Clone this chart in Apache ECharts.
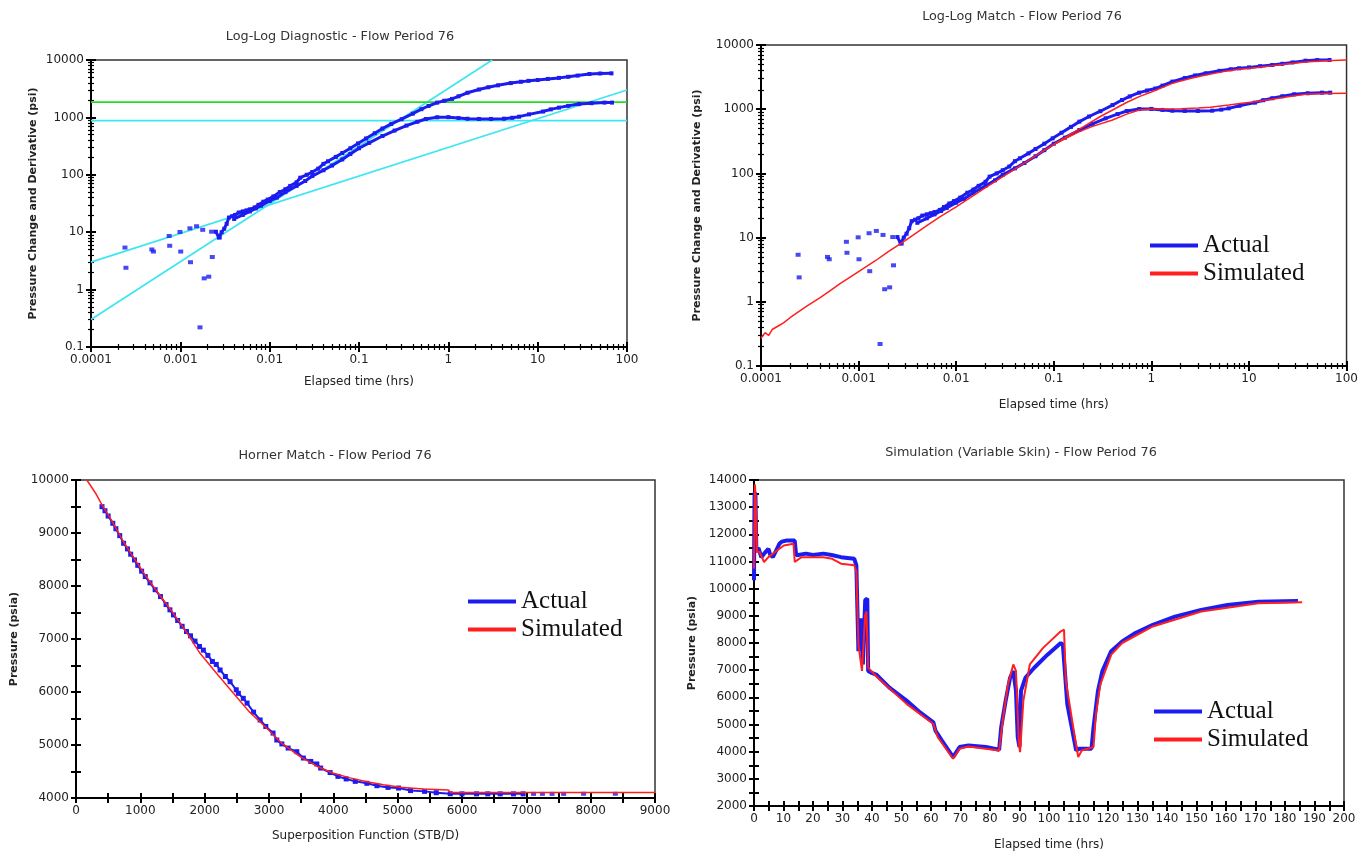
<!DOCTYPE html>
<html><head><meta charset="utf-8">
<script src="https://cdn.jsdelivr.net/npm/echarts@6/dist/echarts.min.js"></script>
<style>html,body{margin:0;padding:0;background:#fff}#c{width:1361px;height:853px}</style>
</head><body><div id="c"></div>
<script>
// ---------- DATA ----------
// Log-log: actual pressure change [hrs, psi]
const deltaPActual = [[0.0025,10.2],[0.0027,8.1],[0.0029,10],[0.0031,11.5],[0.0033,14],[0.0035,18],[0.0038,19],[0.0041,20],[0.0045,22],[0.005,23],[0.0055,24],[0.006,25],[0.0068,27],[0.0075,30],[0.0085,34],[0.0095,37],[0.011,42],[0.013,50],[0.015,56],[0.017,64],[0.02,74],[0.022,89],[0.026,100],[0.03,112],[0.035,128],[0.04,155],[0.045,172],[0.055,205],[0.065,240],[0.08,290],[0.0975,352],[0.12,430],[0.15,530],[0.183,640],[0.23,770],[0.3,930],[0.4,1160],[0.5,1390],[0.6,1580],[0.75,1810],[0.9,1950],[1.1,2100],[1.3,2330],[1.64,2690],[2.2,3060],[2.8,3350],[3.6,3620],[5,3960],[6.5,4180],[7.9,4330],[10,4480],[13,4680],[17.3,4880],[22,5100],[28,5350],[38,5700],[50,5820],[67,5850]];
// Log-log: actual derivative
const derivActual = [[0.004,17],[0.005,20],[0.006,23],[0.007,26],[0.008,29],[0.01,35],[0.012,40],[0.015,50],[0.02,64],[0.025,78],[0.03,95],[0.04,120],[0.05,145],[0.065,185],[0.08,230],[0.1,290],[0.13,360],[0.183,474],[0.25,590],[0.34,721],[0.45,840],[0.56,937],[0.75,1005],[1,1010],[1.3,975],[1.64,948],[2.2,940],[3,940],[4.2,950],[5.2,985],[6.2,1030],[8,1130],[11.5,1265],[14,1380],[17.3,1480],[22,1590],[29,1705],[40,1770],[56,1810],[68,1810]];
// Log-log: early scattered points
const earlyPoints = [[0.00024,5.4],[0.000246,2.4],[0.00048,5.0],[0.0005,4.6],[0.00075,8.6],[0.00076,5.8],[0.00099,10.1],[0.00101,4.6],[0.00128,11.7],[0.0013,3.0],[0.00152,12.7],[0.00166,0.22],[0.00178,11],[0.00185,1.57],[0.00208,1.68],[0.00224,10.2],[0.00228,3.7],[0.00274,8.1]];
// Log-log: simulated pressure change and derivative
const deltaPSim = [[0.0001,0.27],[0.00011,0.33],[0.00012,0.3],[0.00013,0.37],[0.00015,0.42],[0.00017,0.47],[0.0002,0.57],[0.00025,0.72],[0.0003,0.87],[0.0004,1.15],[0.0005,1.45],[0.00064,1.9],[0.001,2.95],[0.0015,4.4],[0.002,6],[0.003,9],[0.005,15.3],[0.0068,21],[0.01,30],[0.02,60],[0.0445,130],[0.0975,277],[0.15,410],[0.2,530],[0.3,770],[0.4,972],[0.55,1260],[0.75,1570],[1,1850],[1.64,2530],[2.5,3000],[3.6,3410],[5.5,3850],[7.9,4180],[12,4480],[17.3,4770],[25,5100],[38,5450],[60,5700],[100,5840]];
const derivSim = [[0.0975,277],[0.13,345],[0.183,447],[0.25,540],[0.4,680],[0.55,830],[0.75,972],[1,1007],[1.5,1010],[2,1020],[3,1040],[4,1070],[6.2,1160],[8.5,1240],[11.5,1310],[17.3,1425],[25,1560],[38,1705],[60,1750],[100,1767]];
// Diagnostic straight lines
const unitSlopeLine = [[0.0001,0.3],[3.1,10000]];
const halfSlopeLine = [[0.0001,3],[100,3000]];
const radialLine = [[0.0001,880],[100,880]];
const greenLine = [[0.0001,1850],[100,1850]];
// Horner: [superposition STB/D, psia]
const hornerActual = [[404,9497],[450,9420],[500,9320],[572,9183],[620,9080],[680,8950],[740,8806],[800,8700],[850,8600],[909,8492],[960,8390],[1020,8280],[1077,8178],[1150,8060],[1230,7930],[1313,7801],[1400,7650],[1460,7550],[1515,7455],[1580,7350],[1650,7240],[1717,7141],[1780,7060],[1850,6960],[1919,6859],[1980,6790],[2050,6690],[2120,6576],[2180,6520],[2240,6415],[2322,6293],[2395,6194],[2491,6042],[2524,5975],[2600,5880],[2659,5791],[2760,5620],[2862,5472],[2950,5350],[3063,5225],[3121,5094],[3200,5020],[3298,4942],[3432,4874],[3534,4754],[3650,4690],[3743,4642],[3803,4565],[3950,4480],[4072,4408],[4200,4360],[4341,4314],[4521,4277],[4678,4232],[4850,4200],[5014,4188],[5200,4140],[5418,4125],[5600,4100],[5817,4080],[6000,4078],[6226,4078],[6400,4078],[6594,4078],[6800,4078],[6950,4078]];
const hornerActualTail = [[7112,4078],[7250,4078],[7400,4078],[7580,4078],[7890,4080],[8383,4080]];
const hornerSim = [[168,10000],[300,9760],[404,9530],[572,9200],[740,8830],[909,8510],[1077,8200],[1300,7830],[1515,7480],[1717,7130],[1928,6730],[2200,6330],[2447,5975],[2700,5620],[2966,5315],[3200,5030],[3484,4780],[3743,4600],[4002,4466],[4260,4380],[4521,4308],[4780,4250],[5039,4201],[5400,4170],[5790,4151],[5816,4105],[7000,4105],[9000,4105]];
// Simulation: [hrs, psia]
const simActual = [[0,10310],[0.1,12100],[0.2,13540],[0.5,13450],[0.8,11350],[1.5,11500],[2.5,11150],[3.5,11300],[4.9,11470],[5.5,11250],[6.4,11160],[7.5,11400],[8.6,11650],[9.4,11730],[10.9,11770],[13.8,11770],[14.3,11225],[15,11240],[17.6,11290],[20,11240],[23.5,11290],[26.3,11240],[29.5,11160],[34,11100],[34.7,10860],[35.1,9035],[35.4,7700],[36.2,8910],[36.9,7210],[37.7,9580],[38.4,9640],[38.7,6970],[39.9,6900],[41.4,6840],[45.9,6360],[51.8,5870],[56.3,5445],[60.8,5080],[61.5,4775],[63.7,4410],[67.5,3800],[68.2,3920],[69.7,4170],[72.7,4230],[78.6,4170],[83.1,4070],[83.8,4900],[85.3,5870],[86.8,6720],[87.9,6970],[88.8,6240],[89.4,4530],[90,4170],[90.5,6240],[92,6720],[95,7090],[99.5,7570],[104,8000],[104.7,7940],[106.2,5750],[107.7,4900],[109.2,4045],[110.2,4110],[114.4,4110],[115.1,4900],[116.6,6240],[118.1,6970],[121.1,7700],[124.8,8060],[129.3,8370],[135.2,8670],[142.7,8970],[151.6,9220],[160.5,9400],[171,9520],[184.4,9545]];
const simSim = [[0,10740],[0.3,13840],[0.6,13300],[1,11350],[1.9,11350],[3.4,10980],[4.9,11160],[7.1,11350],[10.1,11590],[13.4,11650],[13.8,10980],[16.1,11160],[23.5,11160],[26.5,11100],[29.5,10920],[34,10860],[34.7,10620],[35.4,7940],[36.6,6970],[37.7,9035],[38.1,9160],[38.7,7090],[41.4,6780],[51.8,5750],[60.8,5020],[62.3,4530],[67.5,3740],[69.7,4110],[72.7,4190],[83.1,4045],[84.3,5140],[86.1,6480],[87.9,7210],[88.8,6970],[89.8,4290],[90.2,3985],[90.5,4045],[91.3,5870],[93.5,7210],[98,7820],[104,8430],[105.1,8490],[105.7,6600],[108.4,4775],[109.9,3800],[111.1,4045],[115.1,4170],[115.9,5380],[117.4,6480],[121.1,7570],[124.8,8000],[135.2,8610],[151.6,9160],[171,9460],[185.8,9500]];

const titles = ['Log-Log Diagnostic - Flow Period 76','Log-Log Match - Flow Period 76','Horner Match - Flow Period 76','Simulation (Variable Skin) - Flow Period 76'];

// ---------- STYLE ----------
const SANS = 'DejaVu Sans', SERIF = 'Liberation Serif';
const BLUE = '#1c1cf0', RED = '#ff1f1f', CYAN = '#3ee6f2', GREEN = '#22dd22';
const grids = [
  {left:91, top:60, width:536, height:287},
  {left:761, top:45, width:587, height:321},
  {left:76, top:480, width:579, height:318},
  {left:754, top:480, width:590, height:326}
];
const logFmt = v => String(+Number(v).toPrecision(4));

function axes(g, dim, cfg) {
  const base = {
    type: cfg.type, gridIndex: g, min: cfg.min, max: cfg.max,
    position: dim === 'x' ? 'bottom' : 'left',
    splitLine: {show:false}
  };
  if (cfg.type === 'log') base.logBase = 10;
  if (cfg.interval) base.interval = cfg.interval;
  const minor = {show: cfg.type === 'log', splitNumber: 9, length: 3, lineStyle:{color:'#000', width:1.2}};
  const main = Object.assign({}, base, {
    axisLine:{show:true, onZero:false, lineStyle:{color:'#000', width:2}},
    axisTick:{show:true, inside:false, length:5, lineStyle:{color:'#000', width:2}},
    minorTick: minor,
    axisLabel:{show:true, fontFamily:SANS, fontSize:12, color:'#222', margin:7, formatter: cfg.fmt},
    name: cfg.name, nameLocation:'middle', nameGap: cfg.gap,
    nameTextStyle: dim === 'x'
      ? {fontFamily:SANS, fontSize:12, color:'#222'}
      : {fontFamily:SANS, fontSize:11, fontWeight:'bold', color:'#222'}
  });
  const dup = Object.assign({}, base, {
    axisLine:{show:false},
    axisTick:{show:true, inside:true, length:5, lineStyle:{color:'#000', width:2}},
    minorTick: Object.assign({}, minor),
    axisLabel:{show:false}
  });
  return [main, dup];
}
const thousandFmt = v => (v % 1000 === 0 ? String(v) : '');
const tenFmt = v => (v % 10 === 0 ? String(v) : '');

const xAxis = [].concat(
  axes(0,'x',{type:'log', min:0.0001, max:100, fmt:logFmt, name:'Elapsed time (hrs)', gap:29}),
  axes(1,'x',{type:'log', min:0.0001, max:100, fmt:logFmt, name:'Elapsed time (hrs)', gap:33}),
  axes(2,'x',{type:'value', min:0, max:9000, interval:500, fmt:thousandFmt, name:'Superposition Function (STB/D)', gap:32}),
  axes(3,'x',{type:'value', min:0, max:200, interval:5, fmt:tenFmt, name:'Elapsed time (hrs)', gap:33})
);
const yAxis = [].concat(
  axes(0,'y',{type:'log', min:0.1, max:10000, fmt:logFmt, name:'Pressure Change and Derivative (psi)', gap:52}),
  axes(1,'y',{type:'log', min:0.1, max:10000, fmt:logFmt, name:'Pressure Change and Derivative (psi)', gap:58}),
  axes(2,'y',{type:'value', min:4000, max:10000, interval:500, fmt:thousandFmt, name:'Pressure (psia)', gap:56}),
  axes(3,'y',{type:'value', min:2000, max:14000, interval:500, fmt:thousandFmt, name:'Pressure (psia)', gap:56})
);

function refLine(name, data, color) {
  return {name, type:'line', xAxisIndex:0, yAxisIndex:0, data, showSymbol:false, symbol:'none',
    lineStyle:{color, width:1.8}, itemStyle:{color}, silent:true, z:2};
}
function pts(name, data, xi, lw, size) {
  return {name, type:'line', xAxisIndex:xi, yAxisIndex:xi, data, symbol:'rect', symbolSize:size, showSymbol:true,
    lineStyle:{color:BLUE, width:lw}, itemStyle:{color:BLUE}, silent:true, z:3};
}
function scat(name, data, xi, size) {
  return {name, type:'scatter', xAxisIndex:xi, yAxisIndex:xi, data, symbol:'rect', symbolSize:size,
    itemStyle:{color:BLUE}, silent:true, z:3};
}
function redLine(name, data, xi, w) {
  return {name, type:'line', xAxisIndex:xi, yAxisIndex:xi, data, symbol:'none', showSymbol:false,
    lineStyle:{color:RED, width:w}, itemStyle:{color:RED}, silent:true, z:4};
}
function blueLine(name, data, xi, w) {
  return {name, type:'line', xAxisIndex:xi, yAxisIndex:xi, data, symbol:'none', showSymbol:false,
    lineStyle:{color:BLUE, width:w}, itemStyle:{color:BLUE}, silent:true, z:3};
}

const series = [
  pts('Actual', deltaPActual, 2, 3, 4),
  pts('Actual', derivActual, 2, 3, 4),
  scat('Actual', earlyPoints, 2, [5,4]),
  redLine('Simulated', deltaPSim, 2, 1.5),
  redLine('Simulated', derivSim, 2, 1.5),
  refLine('Unit slope', unitSlopeLine, CYAN),
  refLine('Half slope', halfSlopeLine, CYAN),
  refLine('Radial flow', radialLine, CYAN),
  refLine('Stabilisation', greenLine, GREEN),
  pts('Pressure Change', deltaPActual, 0, 3, 4),
  pts('Derivative', derivActual, 0, 3, 4),
  scat('Early points', earlyPoints, 0, [5,4]),
  pts('Actual', hornerActual, 4, 2, 5),
  scat('Actual', hornerActualTail, 4, [5,4]),
  redLine('Simulated', hornerSim, 4, 1.5),
  blueLine('Actual', simActual, 6, 4),
  redLine('Simulated', simSim, 6, 2)
];

function legendAt(left, top) {
  return {data:[{name:'Actual', icon:'rect'},{name:'Simulated', icon:'rect'}],
    left, top, orient:'vertical', itemWidth:48, itemHeight:4, itemGap:1, selectedMode:false,
    itemStyle:{borderWidth:0},
    textStyle:{fontFamily:SERIF, fontSize:25, color:'#111', lineHeight:27}};
}

const titlePos = [[340,37],[1022,17],[335,456],[1021,453]];
const graphic = titles.map((t,i) => ({type:'text', x:titlePos[i][0], y:titlePos[i][1], silent:true,
  style:{text:t, align:'center', verticalAlign:'middle', fontFamily:SANS, fontSize:12.8, fill:'#333'}}));

const chart = echarts.init(document.getElementById('c'), null, {renderer:'canvas'});
chart.setOption({
  animation:false,
  backgroundColor:'#fff',
  grid: grids.map(g => Object.assign({show:true, borderColor:'#333', borderWidth:1.5, containLabel:false}, g)),
  xAxis, yAxis, series,
  legend:[legendAt(1145,227), legendAt(463,583), legendAt(1149,693)],
  graphic
});
</script></body></html>
